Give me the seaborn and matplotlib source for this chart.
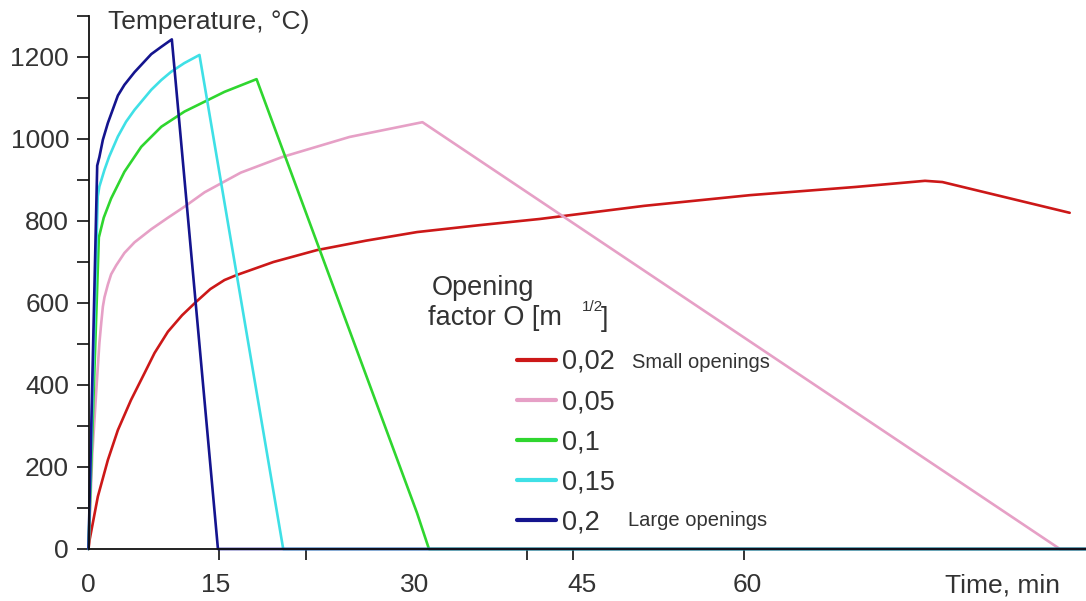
import numpy as np
import pandas as pd
import matplotlib
matplotlib.use("Agg")
import matplotlib.pyplot as plt
import seaborn as sns
from matplotlib.ticker import FixedLocator, MultipleLocator

# ---------------- data ----------------
series_labels = ["0,02", "0,05", "0,1", "0,15", "0,2"]
series_colors = ["#cc1818", "#e6a0c6", "#2fd62f", "#3fe0e6", "#14148e"]

t_002 = [0, 0.1, 0.86, 1.78, 2.7, 3.9, 5.15, 6.07, 7.3, 8.6, 9.9, 11.2, 12.5, 13.6,
         17.0, 21.0, 25.5, 30.2, 36.0, 41.5, 51.1, 60.8, 70.5, 76.9, 78.5, 90.2]
T_002 = [0, 22, 128, 217, 290, 363, 429, 478, 530, 570, 603, 634, 656, 668,
         700, 729, 752, 773, 790, 805, 837, 863, 883, 898, 895, 820]

t_005 = [0, 0.35, 0.7, 1.0, 1.17, 1.32, 1.47, 1.78, 2.08, 2.55, 3.3, 4.23, 5.77,
         7.3, 8.83, 10.67, 14.0, 17.8, 24.0, 30.7, 89.3, 91.7]
T_005 = [0, 230, 380, 502, 551, 591, 614, 645, 670, 692, 722, 748, 780,
         808, 835, 870, 918, 956, 1005, 1041, 0, 0]

t_01 = [0, 0.95, 1.4, 2.08, 2.7, 3.3, 4.85, 6.7, 8.83, 10.67, 12.5, 15.45,
        30.2, 31.3, 91.7]
T_01 = [0, 760, 808, 855, 888, 920, 981, 1030, 1067, 1091, 1115, 1146,
        88, 0, 0]

t_015 = [0, 0.85, 1.0, 1.47, 1.9, 2.7, 3.45, 4.23, 5.77, 6.7, 7.6, 8.8, 10.2, 17.9, 91.7]
T_015 = [0, 860, 884, 925, 957, 1006, 1042, 1071, 1120, 1144, 1164, 1185, 1205, 0, 0]

t_02 = [0, 0.8, 1.0, 1.32, 1.78, 2.7, 3.3, 4.23, 5.77, 6.7, 7.66, 11.9, 91.7]
T_02 = [0, 935, 956, 998, 1039, 1106, 1132, 1163, 1207, 1225, 1243, 0, 0]

xtick_labels = ["0", "15", "30", "45", "60"]
ytick_values = [0, 200, 400, 600, 800, 1000, 1200]

times = [t_002, t_005, t_01, t_015, t_02]
temps = [T_002, T_005, T_01, T_015, T_02]

frames = []
for lab, tt, TT in zip(series_labels, times, temps):
    frames.append(pd.DataFrame({"time": tt, "temp": TT, "O": lab}))
df = pd.concat(frames, ignore_index=True)

# ---------------- figure ----------------
sns.set_theme(style="white")
plt.rcParams["font.family"] = ["Liberation Sans", "DejaVu Sans"]

W, H = 1086, 601
fig = plt.figure(figsize=(W / 100, H / 100), dpi=100)
ax = fig.add_axes([88.5 / W, 52 / H, (W - 88.5) / W, 533 / H])

sns.lineplot(data=df, x="time", y="temp", hue="O", hue_order=series_labels,
             palette=dict(zip(series_labels, series_colors)),
             estimator=None, sort=False, units="O", linewidth=1.9, ax=ax)
for ln in ax.lines:
    ln.set_clip_on(False)
    ln.set_solid_joinstyle("round")

ax.set_xlim(0, 91.7)
ax.set_ylim(0, 1300)

for s in ["top", "right"]:
    ax.spines[s].set_visible(False)
for s in ["left", "bottom"]:
    ax.spines[s].set_color("#111111")
    ax.spines[s].set_linewidth(1.3)

# y ticks
ax.yaxis.set_major_locator(FixedLocator(ytick_values))
ax.yaxis.set_minor_locator(MultipleLocator(100))
ax.tick_params(axis="y", which="both", left=True, direction="out", length=9,
               width=1.2, color="#111111")
ax.tick_params(axis="y", which="major", labelsize=19, labelcolor="#333333", pad=5)

# x ticks: tick marks where the reference draws them, labels where it prints them
x_label_pos = [0, 11.7, 30, 45.4, 60.6]
x_mark_pos = [0, 12.0, 20.0, 30.0, 40.3, 44.5, 60.3]
ax.xaxis.set_major_locator(FixedLocator(x_label_pos))
ax.set_xticklabels(xtick_labels)
ax.xaxis.set_minor_locator(FixedLocator(x_mark_pos))
ax.tick_params(axis="x", which="major", bottom=True, length=0, labelsize=19,
               labelcolor="#333333", pad=17)
ax.tick_params(axis="x", which="minor", bottom=True, direction="out", length=8,
               width=1.2, color="#111111")

ax.set_xlabel("Time, min", fontsize=19, color="#333333", ha="right", va="center")
ax.xaxis.set_label_coords((1060 - 88.5) / (W - 88.5), (549 - 585) / 533)
ax.set_ylabel("Temperature, °C)", fontsize=19, color="#333333", rotation=0,
              ha="left", va="center")
ax.yaxis.set_label_coords(20 / (W - 88.5), (549 - 22) / 533)

# legend
handles, labels = ax.get_legend_handles_labels()
for h in handles:
    h.set_linewidth(3)
leg = ax.legend(handles, labels, loc="upper left",
                bbox_to_anchor=(517 / W, 1 - 349 / H), bbox_transform=fig.transFigure,
                frameon=False, fontsize=19.5, handlelength=1.45, handletextpad=0.2,
                labelspacing=0.52, borderpad=0, borderaxespad=0)
for t in leg.get_texts():
    t.set_color("#333333")

tc = "#333333"
fig.text(432 / W, 1 - 288 / H, "Opening", fontsize=19.5, color=tc, ha="left", va="center")
fig.text(428 / W, 1 - 318 / H, "factor O [m", fontsize=19.5, color=tc, ha="left", va="center")
fig.text(582 / W, 1 - 307 / H, "1/2", fontsize=11, color=tc, ha="left", va="center")
fig.text(601 / W, 1 - 319 / H, "]", fontsize=19.5, color=tc, ha="left", va="center")
fig.text(632 / W, 1 - 362 / H, "Small openings", fontsize=14.5, color=tc, ha="left", va="center")
fig.text(628 / W, 1 - 520 / H, "Large openings", fontsize=14.5, color=tc, ha="left", va="center")

fig.savefig("out.png", dpi=100, facecolor="white")
